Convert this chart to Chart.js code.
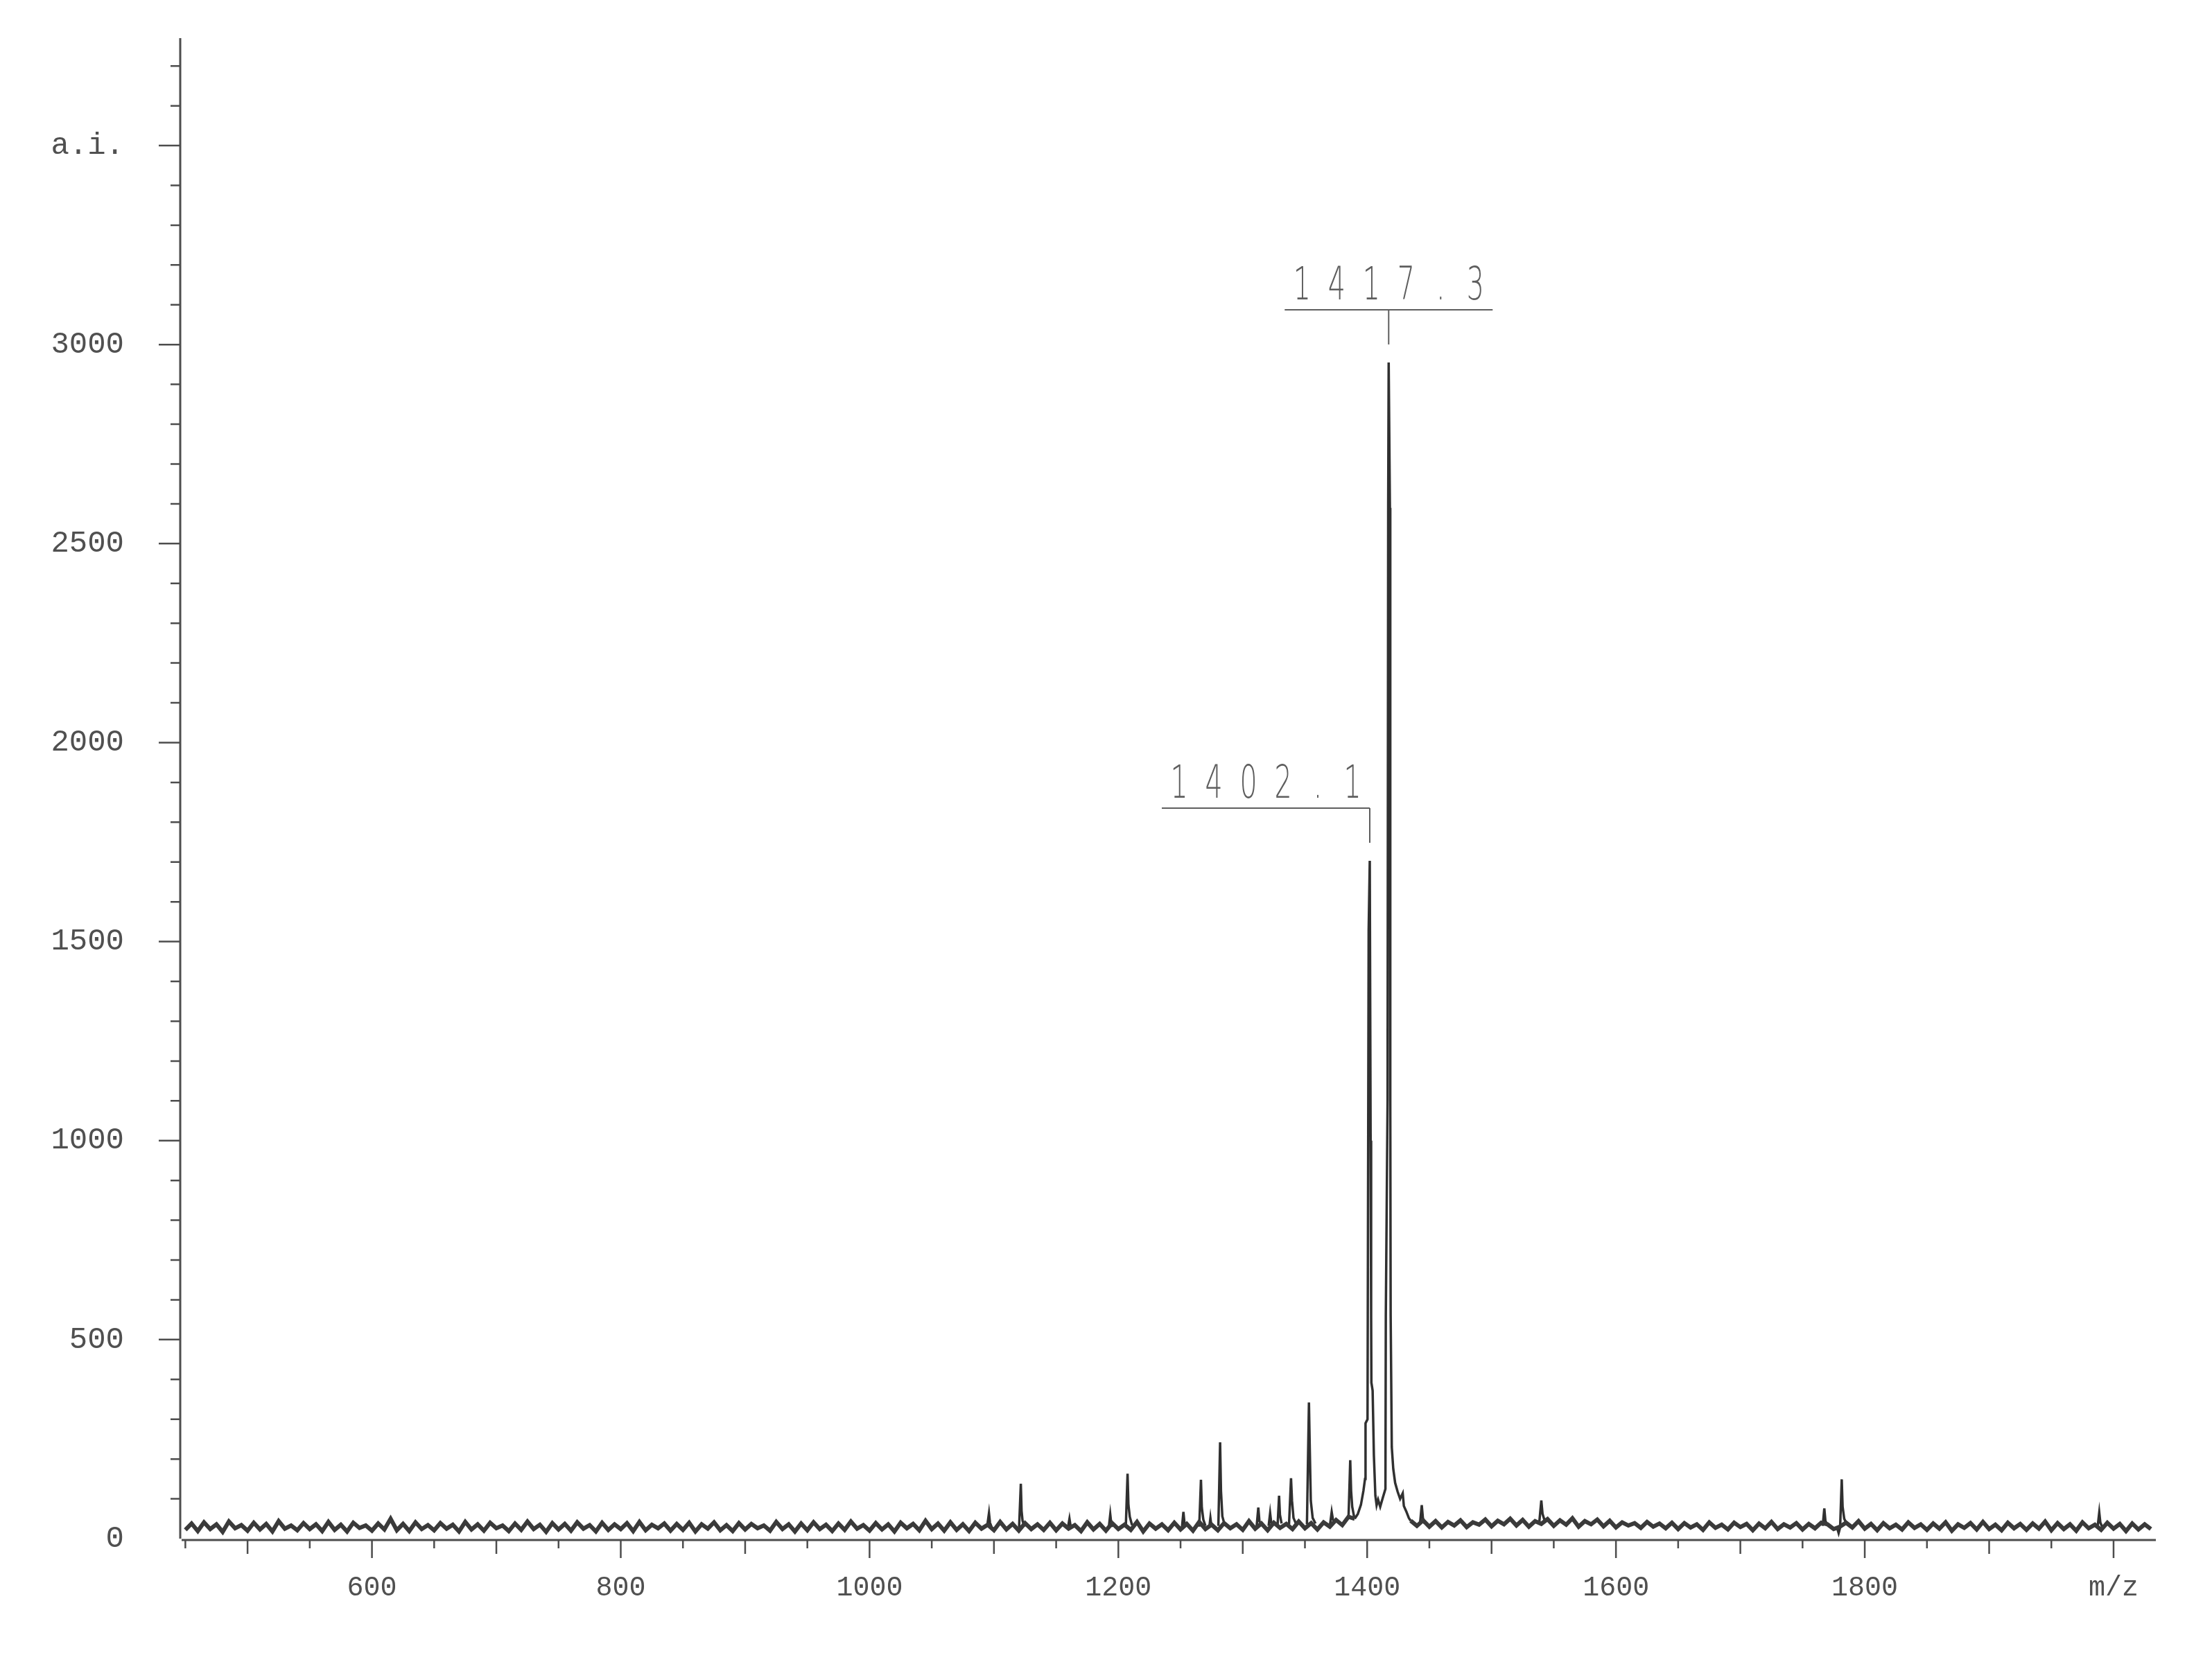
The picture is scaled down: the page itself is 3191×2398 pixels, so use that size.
<!DOCTYPE html>
<html>
<head>
<meta charset="utf-8">
<title>Mass spectrum</title>
<script src="https://cdn.jsdelivr.net/npm/chart.js@4.4.1/dist/chart.umd.min.js"></script>
<style>
  html, body { margin: 0; padding: 0; background: #fff; }
  canvas { display: block; }
</style>
</head>
<body>
<canvas id="spectrum" width="3191" height="2398"></canvas>
<script>
// baseline noise, read every 5 m/z from 450 to 2030 (null where the main cluster sits)
const baseStart = 450;
const baseStep = 5;
const baseline = [
  22, 38, 19, 41, 24, 36, 17, 43, 26, 34, 20, 40, 23, 37, 18, 44, 25, 33, 21, 39,
  24, 36, 19, 42, 22, 35, 18, 40, 27, 33, 20, 38, 23, 50, 21, 37, 19, 41, 24, 34,
  21, 39, 25, 35, 18, 42, 23, 36, 20, 40, 26, 33, 19, 38, 22, 43, 24, 35, 17, 39,
  23, 37, 20, 41, 25, 34, 18, 40, 22, 36, 24, 39, 19, 42, 21, 35, 26, 38, 20, 37,
  22, 40, 18, 36, 25, 41, 21, 34, 19, 39, 23, 37, 26, 33, 20, 42, 24, 36, 18, 38,
  21, 41, 24, 35, 19, 38, 22, 43, 25, 34, 20, 39, 23, 36, 18, 40, 26, 37, 21, 45,
  24, 38, 20, 41, 22, 36, 19, 40, 25, 35, 21, 42, 23, 37, 20, 39, 24, 36, 22, 40,
  21, 38, 25, 34, 19, 41, 23, 37, 20, 39, 24, 35, 22, 42, 18, 38, 25, 36, 21, 40,
  23, 37, 20, 42, 24, 35, 21, 39, 26, 36, 22, 44, 25, 38, 21, 40, 27, 37, 24, 43,
  26, 39, 23, 41, 30, 47, 34, 55, 50, null, null, null, null, null, null, null, null, 45, 32, 46,
  30, 44, 28, 42, 33, 46, 29, 41, 35, 48, 31, 45, 36, 50, 33, 47, 30, 44, 37, 49,
  32, 46, 35, 51, 30, 44, 36, 48, 31, 45, 28, 41, 33, 39, 27, 42, 30, 38, 26, 40,
  24, 39, 28, 36, 22, 41, 27, 35, 23, 40, 29, 37, 21, 38, 26, 42, 24, 36, 28, 39,
  23, 37, 26, 40, 36, 24, 30, 40, 28, 44, 25, 37, 21, 39, 26, 35, 23, 41, 27, 36,
  22, 38, 25, 41, 20, 36, 27, 39, 23, 42, 24, 35, 21, 40, 26, 37, 22, 38, 25, 43,
  21, 39, 24, 36, 20, 41, 26, 35, 22, 40, 25, 37, 19, 38, 23, 36, 24
];

// peak profiles (m/z and a.i.), one small list per peak
const peakMz = [
  [1094.5, 1096.0, 1096.8, 1098.0],
  [1120.2, 1121.6, 1122.2, 1123.0, 1124.5],
  [1159.6, 1160.7, 1161.6],
  [1192.4, 1193.5, 1194.4, 1195.6],
  [1206.0, 1207.4, 1208.1, 1209.2, 1211.0],
  [1251.2, 1252.3, 1253.2, 1254.4],
  [1265.0, 1266.4, 1267.1, 1268.3, 1270.0],
  [1273.2, 1274.0, 1274.8],
  [1280.4, 1281.8, 1282.5, 1283.6, 1285.5],
  [1311.2, 1312.5, 1313.4, 1315.0],
  [1320.8, 1322.0, 1322.9, 1324.4],
  [1328.0, 1329.2, 1329.9, 1331.2],
  [1337.2, 1338.8, 1339.6, 1340.8, 1343.0],
  [1351.6, 1353.2, 1353.8, 1354.7, 1356.2, 1358.5],
  [1370.2, 1371.5, 1372.5, 1374.0],
  [1385.0, 1386.4, 1387.1, 1388.0, 1389.5],
  [1390, 1392.5, 1395, 1397, 1398.3, 1398.7, 1400.3, 1400.5, 1401.2, 1402.1,
   1402.8, 1403.2, 1403.4, 1404.4, 1405.4, 1406.6, 1407.6, 1408.8, 1410.5, 1412.5,
   1414.7, 1415.0, 1416.4, 1416.9, 1417.3, 1418.3, 1418.6, 1418.9, 1419.8, 1421,
   1422.5, 1424.5, 1426.5, 1428.6, 1429.5, 1431.5, 1433.5, 1435],
  [1442.5, 1443.9, 1444.8, 1446.2],
  [1538.4, 1540.0, 1541.0, 1542.8],
  [1766.2, 1767.5, 1768.4, 1770.0],
  [1777.5, 1779.0, 1780.2, 1781.5, 1782.2, 1783.5, 1785.0],
  [1987.2, 1988.5, 1989.4, 1990.8]
];
const peakInt = [
  [30, 64, 40, 30],
  [28, 138, 70, 45, 30],
  [30, 50, 32],
  [30, 61, 36, 30],
  [30, 163, 85, 55, 34],
  [30, 67, 38, 30],
  [30, 148, 78, 48, 32],
  [31, 52, 32],
  [32, 242, 120, 56, 34],
  [32, 78, 44, 32],
  [32, 64, 40, 32],
  [34, 108, 60, 38],
  [36, 152, 95, 52, 36],
  [36, 342, 240, 95, 52, 38],
  [36, 67, 48, 40],
  [50, 197, 120, 80, 55],
  [50, 62, 85, 120, 150, 290, 300, 560, 1527, 1703,
   1000, 560, 392, 372, 210, 108, 84, 98, 80, 102,
   125, 560, 1100, 2600, 2955, 2590, 1100, 560, 230, 175,
   140, 118, 100, 114, 82, 68, 52, 45],
  [38, 84, 52, 38],
  [42, 96, 62, 44],
  [32, 76, 44, 36],
  [30, 14, 28, 149, 80, 50, 40],
  [30, 66, 40, 30]
];

// labelled peaks
const labelMz = [1402.1, 1417.3];
const labelTop = [1703, 2955];
const labelText = ['1402.1', '1417.3'];

const xTicks = [600, 800, 1000, 1200, 1400, 1600, 1800, 2000];
const xTickLabels = ['600', '800', '1000', '1200', '1400', '1600', '1800', 'm/z'];
const yTicks = [0, 500, 1000, 1500, 2000, 2500, 3000, 3500];
const yTickLabels = ['0', '500', '1000', '1500', '2000', '2500', '3000', 'a.i.'];

const baselinePoints = baseline.map((v, i) => ({ x: baseStart + i * baseStep, y: v }));
const peakPoints = [];
peakMz.forEach((list, p) => {
  list.forEach((mz, k) => peakPoints.push({ x: mz, y: peakInt[p][k] }));
  peakPoints.push({ x: list[list.length - 1], y: null }); // break between peaks
});

// axis lines and tick marks, placed with the chart's own scales
const axisMarks = {
  id: 'axisMarks',
  beforeDatasetsDraw(chart) {
    const { ctx, chartArea: a, scales: { x, y } } = chart;
    ctx.save();
    ctx.strokeStyle = '#4d4d4d';
    ctx.lineWidth = 3;
    ctx.beginPath();
    ctx.moveTo(a.left - 2, a.top);
    ctx.lineTo(a.left - 2, a.bottom);
    ctx.moveTo(a.left, a.bottom + 2);
    ctx.lineTo(a.right, a.bottom + 2);
    ctx.stroke();

    ctx.lineWidth = 2.5;
    ctx.beginPath();
    for (let v = 450; v <= 2000; v += 50) {
      const px = x.getPixelForValue(v);
      const len = v % 200 === 0 ? 26 : (v % 100 === 0 ? 20 : 12);
      ctx.moveTo(px, a.bottom + 2);
      ctx.lineTo(px, a.bottom + 2 + len);
    }
    for (let v = 100; v <= 3700; v += 100) {
      const py = y.getPixelForValue(v);
      const len = v % 500 === 0 ? 31 : 14;
      ctx.moveTo(a.left - 2, py);
      ctx.lineTo(a.left - 2 - len, py);
    }
    ctx.stroke();
    ctx.restore();
  }
};

// peak labels: text over a bar, with a short drop line to the peak
const peakLabels = {
  id: 'peakLabels',
  afterDatasetsDraw(chart) {
    const { ctx, scales: { x, y } } = chart;
    ctx.save();
    labelMz.forEach((mz, i) => {
      const px = x.getPixelForValue(mz);
      const barY = y.getPixelForValue(labelTop[i]) - 76;
      const left = i === 0 ? px - 300 : px - 150;
      const right = left + 300;
      ctx.strokeStyle = '#5e5e5e';
      ctx.lineWidth = 2;
      ctx.beginPath();
      ctx.moveTo(left, barY);
      ctx.lineTo(right, barY);
      ctx.moveTo(px, barY);
      ctx.lineTo(px, barY + 50);
      ctx.stroke();

      ctx.fillStyle = '#5e5e5e';
      ctx.font = '200 66px "DejaVu Sans"';
      ctx.textAlign = 'center';
      ctx.textBaseline = 'alphabetic';
      const chars = labelText[i].split('');
      const mid = (left + right) / 2;
      chars.forEach((c, k) => {
        const cx = mid + (k - (chars.length - 1) / 2) * 50;
        ctx.save();
        ctx.translate(cx, barY - 15);
        ctx.scale(0.6, 1);
        ctx.fillText(c, 0, 0);
        ctx.restore();
      });
    });
    ctx.restore();
  }
};

new Chart(document.getElementById('spectrum'), {
  type: 'line',
  data: {
    datasets: [
      { data: baselinePoints, borderColor: '#3a3a3a', borderWidth: 6, pointRadius: 0, tension: 0, spanGaps: false },
      { data: peakPoints, borderColor: '#303030', borderWidth: 3.5, pointRadius: 0, tension: 0, spanGaps: false }
    ]
  },
  options: {
    responsive: false,
    animation: false,
    events: [],
    layout: { padding: { left: 0, top: 55, right: 81, bottom: 0 } },
    plugins: {
      legend: { display: false },
      tooltip: { enabled: false }
    },
    scales: {
      x: {
        type: 'linear',
        min: 447,
        max: 2034,
        afterFit: (s) => { s.height = 178; s.paddingLeft = 0; s.paddingRight = 0; },
        afterBuildTicks: (s) => { s.ticks = xTicks.map(v => ({ value: v })); },
        grid: { display: false },
        border: { display: false },
        ticks: {
          padding: 39,
          maxRotation: 0,
          autoSkip: false,
          color: '#505050',
          font: { family: '"Liberation Mono", monospace', size: 40 },
          callback: (v) => xTickLabels[xTicks.indexOf(v)]
        }
      },
      y: {
        type: 'linear',
        min: 0,
        max: 3770,
        afterFit: (s) => { s.width = 262; s.paddingTop = 0; s.paddingBottom = 0; },
        afterBuildTicks: (s) => { s.ticks = yTicks.map(v => ({ value: v })); },
        grid: { display: false },
        border: { display: false },
        ticks: {
          padding: 75,
          autoSkip: false,
          color: '#505050',
          font: { family: '"Liberation Mono", monospace', size: 44 },
          callback: (v) => yTickLabels[yTicks.indexOf(v)]
        }
      }
    }
  },
  plugins: [axisMarks, peakLabels]
});
</script>
</body>
</html>
